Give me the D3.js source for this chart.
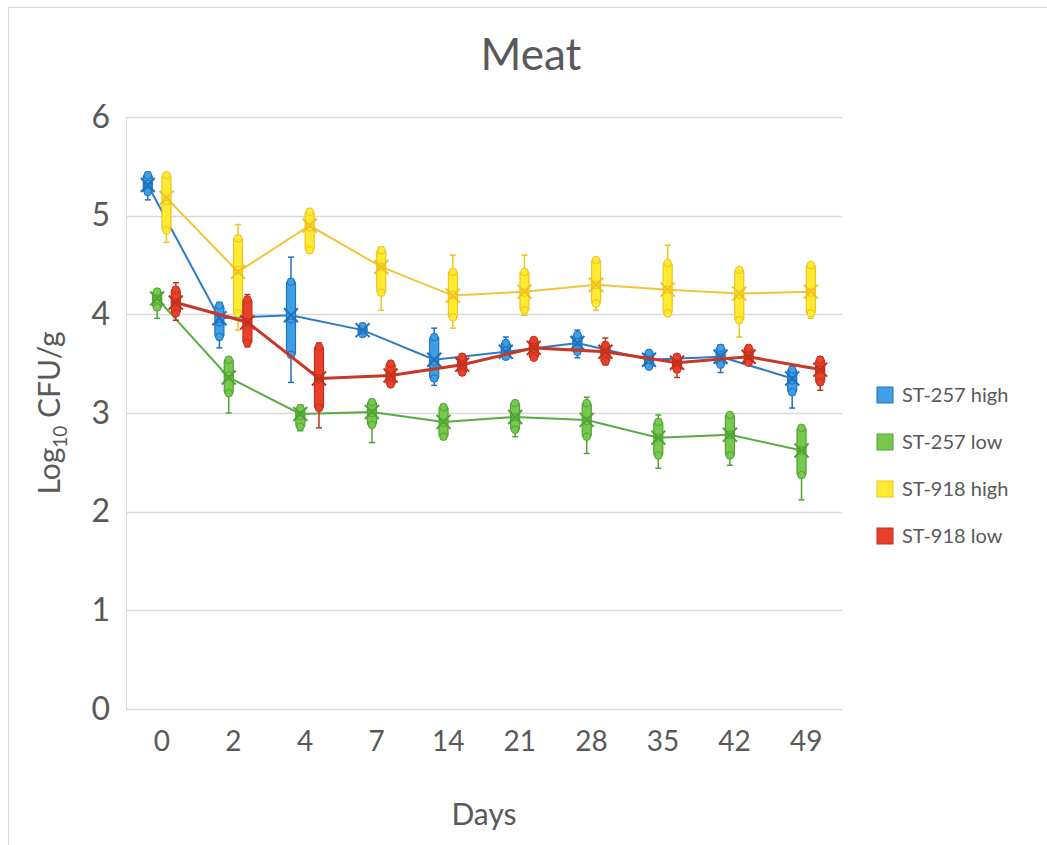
<!DOCTYPE html>
<html>
<head>
<meta charset="utf-8">
<script src="https://cdn.jsdelivr.net/npm/d3@7"></script>
<style>
  body { margin: 0; background: #fff; }
  text { font-family: Lato, "Open Sans", sans-serif; fill: #595959; }
</style>
</head>
<body>
<div id="chart"></div>
<script>
// categories (days)
var days = ['0', '2', '4', '7', '14', '21', '28', '35', '42', '49'];
var seriesNames = ['ST-257 high', 'ST-257 low', 'ST-918 high', 'ST-918 low'];
var yTicks = [0, 1, 2, 3, 4, 5, 6];

// box plot values per series
var minVals = [
  [5.16, 3.66, 3.31, 3.79, 3.28, 3.56, 3.56, 3.46, 3.41, 3.05],
  [3.96, 3.00, 2.82, 2.70, 2.74, 2.76, 2.59, 2.44, 2.47, 2.12],
  [4.73, 3.84, 4.63, 4.04, 3.86, 3.99, 4.04, 3.99, 3.77, 3.96],
  [3.94, 3.67, 2.85, 3.28, 3.40, 3.54, 3.49, 3.36, 3.49, 3.23]
];
var q1Vals = [
  [5.24, 3.77, 3.59, 3.80, 3.35, 3.57, 3.62, 3.47, 3.49, 3.21],
  [4.07, 3.20, 2.86, 2.88, 2.76, 2.83, 2.76, 2.57, 2.57, 2.37],
  [4.85, 4.01, 4.65, 4.22, 3.97, 4.04, 4.11, 4.01, 3.94, 4.01],
  [4.01, 3.71, 3.05, 3.29, 3.41, 3.56, 3.52, 3.44, 3.51, 3.31]
];
var medianVals = [
  [5.32, 3.92, 3.95, 3.84, 3.52, 3.63, 3.72, 3.54, 3.57, 3.33],
  [4.15, 3.38, 2.97, 3.00, 2.90, 2.96, 2.92, 2.75, 2.78, 2.62],
  [5.15, 4.45, 4.88, 4.48, 4.20, 4.22, 4.30, 4.25, 4.20, 4.22],
  [4.12, 3.92, 3.35, 3.37, 3.49, 3.65, 3.61, 3.51, 3.58, 3.44]
];
var q3Vals = [
  [5.41, 4.09, 4.33, 3.88, 3.77, 3.71, 3.79, 3.61, 3.66, 3.44],
  [4.23, 3.54, 3.05, 3.11, 3.06, 3.10, 3.10, 2.91, 2.98, 2.85],
  [5.41, 4.77, 5.04, 4.65, 4.43, 4.43, 4.55, 4.52, 4.45, 4.50],
  [4.25, 4.15, 3.67, 3.50, 3.57, 3.74, 3.69, 3.57, 3.66, 3.54]
];
var maxVals = [
  [5.44, 4.12, 4.58, 3.89, 3.86, 3.77, 3.84, 3.62, 3.69, 3.47],
  [4.25, 3.56, 3.08, 3.13, 3.07, 3.11, 3.16, 2.98, 3.00, 2.86],
  [5.43, 4.91, 5.06, 4.68, 4.60, 4.60, 4.57, 4.70, 4.47, 4.52],
  [4.32, 4.20, 3.71, 3.51, 3.58, 3.76, 3.76, 3.59, 3.67, 3.57]
];
var meanVals = [
  [5.31, 3.96, 3.99, 3.84, 3.54, 3.62, 3.71, 3.54, 3.57, 3.35],
  [4.16, 3.36, 2.99, 3.01, 2.91, 2.96, 2.93, 2.75, 2.78, 2.62],
  [5.18, 4.43, 4.90, 4.48, 4.19, 4.23, 4.30, 4.25, 4.21, 4.23],
  [4.12, 3.92, 3.35, 3.38, 3.49, 3.66, 3.62, 3.51, 3.57, 3.44]
];

var fills = ['#3d9fe6', '#78c850', '#ffec30', '#e8402a'];
var strokes = ['#2070bd', '#4fa335', '#f0c21e', '#c2301e'];
var lineColors = ['#2b7bc8', '#56ad40', '#f2c43a', '#c93724'];
var lineWidths = [2, 2, 2, 3];

var width = 1047, height = 845;
var margin = {top: 117, left: 126, right: 205, bottom: 136};

var svg = d3.select('#chart').append('svg')
  .attr('width', width)
  .attr('height', height);

// outer chart border
svg.append('rect')
  .attr('x', 8.5).attr('y', 7.5)
  .attr('width', width).attr('height', height)
  .attr('fill', 'none').attr('stroke', '#d9d9d9');

var x = d3.scaleBand()
  .domain(days)
  .range([margin.left, width - margin.right]);

var xInner = d3.scalePoint()
  .domain(seriesNames)
  .range([-14, 14]);

var y = d3.scaleLinear()
  .domain([0, 6])
  .range([height - margin.bottom, margin.top]);

// gridlines
svg.append('g')
  .selectAll('line')
  .data(yTicks)
  .enter().append('line')
  .attr('x1', margin.left).attr('x2', width - margin.right)
  .attr('y1', function(d) { return Math.round(y(d)) + 0.5; })
  .attr('y2', function(d) { return Math.round(y(d)) + 0.5; })
  .attr('stroke', '#d9d9d9').attr('stroke-width', 1.3);

svg.append('line')
  .attr('x1', margin.left + 0.5).attr('x2', margin.left + 0.5)
  .attr('y1', y(6)).attr('y2', y(0))
  .attr('stroke', '#d9d9d9');

// y axis
var yAxis = svg.append('g')
  .attr('transform', 'translate(' + margin.left + ',0)')
  .call(d3.axisLeft(y).tickValues(yTicks).tickFormat(d3.format('d')).tickSize(0).tickPadding(16));
yAxis.select('.domain').remove();
yAxis.selectAll('text').style('font-size', '32px').attr('fill', '#595959');

// x axis
var xAxis = svg.append('g')
  .attr('transform', 'translate(0,' + y(0) + ')')
  .call(d3.axisBottom(x).tickSize(0).tickPadding(22));
xAxis.select('.domain').remove();
xAxis.selectAll('text').style('font-size', '28px').attr('fill', '#595959');

// titles
svg.append('text')
  .attr('x', 531).attr('y', 70)
  .attr('text-anchor', 'middle')
  .style('font-size', '44px')
  .text('Meat');

svg.append('text')
  .attr('x', 484).attr('y', 825)
  .attr('text-anchor', 'middle')
  .style('font-size', '30px')
  .text('Days');

var yTitle = svg.append('text')
  .attr('transform', 'translate(60,413) rotate(-90)')
  .attr('text-anchor', 'middle')
  .style('font-size', '30px');
yTitle.append('tspan').text('Log');
yTitle.append('tspan').attr('dy', 7).style('font-size', '19px').text('10');
yTitle.append('tspan').attr('dy', -7).text(' CFU/g');

var boxW = 9;

seriesNames.forEach(function(name, s) {
  var cx = function(i) { return x(days[i]) + x.bandwidth() / 2 + xInner(name); };
  var g = svg.append('g');

  // mean line
  var line = d3.line()
    .x(function(d, i) { return cx(i); })
    .y(function(d) { return y(d); });
  g.append('path')
    .datum(meanVals[s])
    .attr('d', line)
    .attr('fill', 'none')
    .attr('stroke', lineColors[s])
    .attr('stroke-width', lineWidths[s]);

  days.forEach(function(day, i) {
    var c = cx(i);
    // whiskers
    g.append('line')
      .attr('x1', c).attr('x2', c)
      .attr('y1', y(maxVals[s][i])).attr('y2', y(minVals[s][i]))
      .attr('stroke', strokes[s]).attr('stroke-width', 1.5);
    [minVals[s][i], maxVals[s][i]].forEach(function(v) {
      g.append('line')
        .attr('x1', c - 3).attr('x2', c + 3)
        .attr('y1', y(v)).attr('y2', y(v))
        .attr('stroke', strokes[s]).attr('stroke-width', 1.5);
    });
    // box
    g.append('rect')
      .attr('x', c - boxW / 2)
      .attr('y', y(q3Vals[s][i]))
      .attr('width', boxW)
      .attr('height', Math.max(1, y(q1Vals[s][i]) - y(q3Vals[s][i])))
      .attr('rx', 1.5)
      .attr('fill', fills[s])
      .attr('stroke', strokes[s]).attr('stroke-width', 1.2);
    // inner points
    [q1Vals[s][i], medianVals[s][i], q3Vals[s][i]].forEach(function(v) {
      g.append('circle')
        .attr('cx', c).attr('cy', y(v)).attr('r', 3.8)
        .attr('fill', fills[s])
        .attr('stroke', strokes[s]).attr('stroke-width', 1);
    });
    // median
    g.append('line')
      .attr('x1', c - boxW / 2).attr('x2', c + boxW / 2)
      .attr('y1', y(medianVals[s][i])).attr('y2', y(medianVals[s][i]))
      .attr('stroke', strokes[s]).attr('stroke-width', 1);
    // mean marker
    var m = y(meanVals[s][i]);
    g.append('path')
      .attr('d', 'M' + (c - 7) + ',' + (m - 7) + 'L' + (c + 7) + ',' + (m + 7) +
                 'M' + (c - 7) + ',' + (m + 7) + 'L' + (c + 7) + ',' + (m - 7))
      .attr('stroke', strokes[s]).attr('stroke-width', 2);
  });
});

// legend
var legend = svg.append('g')
  .attr('transform', 'translate(877,387)');
var item = legend.selectAll('g')
  .data(seriesNames)
  .enter().append('g')
  .attr('transform', function(d, i) { return 'translate(0,' + i * 47 + ')'; });
item.append('rect')
  .attr('width', 16).attr('height', 16)
  .attr('fill', function(d, i) { return fills[i]; })
  .attr('stroke', function(d, i) { return strokes[i]; });
item.append('text')
  .attr('x', 25).attr('y', 15)
  .style('font-size', '20px')
  .text(function(d) { return d; });
</script>
</body>
</html>
